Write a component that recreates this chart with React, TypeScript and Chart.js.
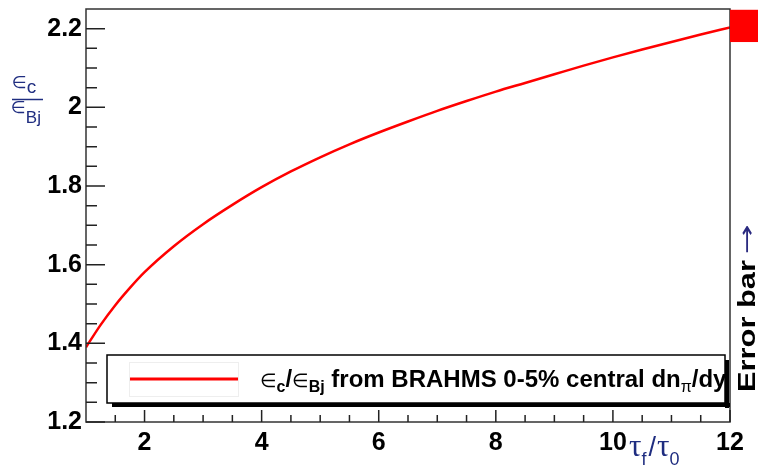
import React, { useEffect, useRef } from 'react';
import { Chart, registerables } from 'chart.js';

Chart.register(...registerables);

// ---- data ----
const xValues = [1, 1.25, 1.5, 1.75, 2, 2.5, 3, 3.5, 4, 4.5, 5, 5.5, 6, 6.5, 7, 7.5, 8, 8.5, 9, 9.5, 10, 10.5, 11, 11.5, 12];
const yValues = [1.39, 1.447, 1.497, 1.541, 1.581, 1.647, 1.703, 1.752, 1.797, 1.837, 1.873, 1.906, 1.936, 1.964, 1.991, 2.016, 2.04, 2.062, 2.084, 2.106, 2.127, 2.147, 2.166, 2.185, 2.203];
const xTickLabels = [2, 4, 6, 8, 10, 12];
const yTickLabels = [1.2, 1.4, 1.6, 1.8, 2.0, 2.2];
const errorBarCenter = [2.207];
const errorBarHalfWidth = [0.041];
const xRange = [1, 12];
const yRange = [1.2, 2.25];

const SANS = '"Liberation Sans", Arial, "DejaVu Sans", sans-serif';
const SERIF = '"Liberation Serif", "DejaVu Serif", serif';
const SYM = '"DejaVu Sans", sans-serif';
const NAVY = '#1f2d80';
const EPS = '∈';

const isIn = (v: number, arr: number[]) => arr.some((a) => Math.abs(a - v) < 1e-6);
const fmt = (v: number) => (Math.abs(v - Math.round(v)) < 1e-6 ? String(Math.round(v)) : v.toFixed(1));

type Seg = { t: string; font: string; dy?: number; color?: string; gap?: number };
function drawSegs(ctx: CanvasRenderingContext2D, segs: Seg[], x: number, y: number) {
  let cx = x;
  for (const s of segs) {
    ctx.font = s.font;
    ctx.fillStyle = s.color || '#000';
    cx += s.gap || 0;
    ctx.fillText(s.t, cx, y + (s.dy || 0));
    cx += ctx.measureText(s.t).width;
  }
  return cx;
}

const overlay = {
  id: 'overlay',
  afterDatasetsDraw(chart: any) {
    const ctx: CanvasRenderingContext2D = chart.ctx;
    const { left, right, top, bottom } = chart.chartArea;
    const xs = chart.scales.x;
    const ys = chart.scales.y;
    ctx.save();

    // frame
    ctx.strokeStyle = '#333';
    ctx.lineWidth = 1.5;
    ctx.strokeRect(left, top, right - left, bottom - top);

    // inward ticks
    ctx.beginPath();
    ctx.lineWidth = 1.5;
    ctx.strokeStyle = '#222';
    xs.ticks.forEach((t: any) => {
      const px = xs.getPixelForValue(t.value);
      const major = isIn(t.value, xTickLabels);
      if (!major && (px <= left + 1 || px >= right - 1)) return;
      const len = major ? 12 : 7;
      ctx.moveTo(px, bottom);
      ctx.lineTo(px, bottom - len);
    });
    ys.ticks.forEach((t: any) => {
      const py = ys.getPixelForValue(t.value);
      if (py <= top + 1) return;
      const len = isIn(t.value, yTickLabels) ? 19 : 11;
      ctx.moveTo(left, py);
      ctx.lineTo(left + len, py);
    });
    ctx.stroke();

    // error bar box at right edge
    const eTop = ys.getPixelForValue(errorBarCenter[0] + errorBarHalfWidth[0]);
    const eBot = ys.getPixelForValue(errorBarCenter[0] - errorBarHalfWidth[0]);
    ctx.fillStyle = '#ff0000';
    ctx.fillRect(right, eTop, 28, eBot - eTop);

    // legend
    const lx1 = left + 21, ly1 = 355, lx2 = right - 5, ly2 = 403;
    ctx.fillStyle = '#000';
    ctx.fillRect(lx1 + 5, ly2, lx2 - lx1, 4);
    ctx.fillRect(lx2, ly1 + 5, 4, ly2 - ly1);
    ctx.fillStyle = '#fff';
    ctx.fillRect(lx1, ly1, lx2 - lx1, ly2 - ly1);
    ctx.strokeStyle = '#eeeeee';
    ctx.lineWidth = 1;
    ctx.strokeRect(lx1 + 22.5, ly1 + 7.5, 109, 34);
    ctx.strokeStyle = '#ff0000';
    ctx.lineWidth = 3;
    ctx.beginPath();
    ctx.moveTo(lx1 + 23, ly1 + 24);
    ctx.lineTo(lx1 + 131, ly1 + 24);
    ctx.stroke();
    ctx.textBaseline = 'alphabetic';
    ctx.textAlign = 'left';
    drawSegs(ctx, [
      { t: EPS, font: `19px ${SYM}` },
      { t: 'c', font: `bold 16px ${SANS}`, dy: 5 },
      { t: '/', font: `bold 24px ${SANS}` },
      { t: EPS, font: `19px ${SYM}` },
      { t: 'Bj', font: `bold 16px ${SANS}`, dy: 5 },
      { t: ' from BRAHMS 0-5% central dn', font: `bold 24px ${SANS}` },
      { t: 'π', font: `16px ${SANS}`, dy: 5 },
      { t: '/dy', font: `bold 24px ${SANS}` },
    ], lx1 + 153, 387);
    ctx.strokeStyle = '#000';
    ctx.lineWidth = 1.5;
    ctx.strokeRect(lx1, ly1, lx2 - lx1, ly2 - ly1);

    // y-axis title (fraction)
    drawSegs(ctx, [
      { t: EPS, font: `17px ${SYM}`, color: NAVY },
      { t: 'c', font: `19px ${SANS}`, dy: 5, color: NAVY },
    ], 12, 88);
    ctx.strokeStyle = NAVY;
    ctx.lineWidth = 1.5;
    ctx.beginPath();
    ctx.moveTo(12, 99.5);
    ctx.lineTo(43, 99.5);
    ctx.stroke();
    drawSegs(ctx, [
      { t: EPS, font: `17px ${SYM}`, color: NAVY },
      { t: 'Bj', font: `17px ${SANS}`, dy: 10, color: NAVY },
    ], 11, 113);

    // x-axis title
    drawSegs(ctx, [
      { t: 'τ', font: `31px ${SERIF}`, color: NAVY },
      { t: 'f', font: `18px ${SANS}`, dy: 9, color: NAVY },
      { t: '/', font: `27px ${SANS}`, color: NAVY, gap: 2 },
      { t: 'τ', font: `31px ${SERIF}`, color: NAVY, gap: 1 },
      { t: '0', font: `18px ${SANS}`, dy: 9, color: NAVY },
    ], 629, 456);

    // "Error bar →" rotated text
    ctx.save();
    ctx.translate(755, 392);
    ctx.rotate(-Math.PI / 2);
    ctx.font = `bold 23px ${SANS}`;
    ctx.fillStyle = '#000';
    const w = ctx.measureText('Error bar').width;
    ctx.save();
    ctx.scale(132 / w, 1);
    ctx.fillText('Error bar', 0, 0);
    ctx.restore();
    ctx.font = `22px ${SYM}`;
    ctx.fillStyle = '#2a2a80';
    const aw = ctx.measureText('→').width;
    ctx.save();
    ctx.translate(138, 0);
    ctx.scale(30 / aw, 1);
    ctx.fillText('→', 0, -1);
    ctx.restore();
    ctx.restore();

    ctx.restore();
  },
};

export default function App() {
  const ref = useRef<HTMLCanvasElement | null>(null);
  useEffect(() => {
    if (!ref.current) return;
    const chart = new Chart(ref.current, {
      type: 'line',
      data: {
        datasets: [
          {
            label: 'ϵc/ϵBj from BRAHMS 0-5% central dnπ/dy',
            data: xValues.map((x, i) => ({ x, y: yValues[i] })),
            borderColor: '#ff0000',
            borderWidth: 2.5,
            pointRadius: 0,
            fill: false,
            cubicInterpolationMode: 'monotone',
          },
        ],
      },
      options: {
        responsive: false,
        animation: false,
        devicePixelRatio: 1,
        layout: { padding: { left: 0, right: 29, top: 9, bottom: 0 } },
        plugins: { legend: { display: false }, tooltip: { enabled: false } },
        scales: {
          x: {
            type: 'linear',
            min: xRange[0],
            max: xRange[1],
            grid: { display: false, drawTicks: false },
            border: { display: false },
            ticks: {
              stepSize: 0.5,
              autoSkip: false,
              maxRotation: 0,
              padding: 6,
              color: '#000',
              font: { family: SANS, size: 25, weight: 'bold' },
              callback: (v: any) => (isIn(Number(v), xTickLabels) ? fmt(Number(v)) : ''),
            },
            afterFit: (s: any) => {
              s.height = 45;
              s.paddingLeft = 0;
              s.paddingRight = 0;
            },
          },
          y: {
            type: 'linear',
            min: yRange[0],
            max: yRange[1],
            grid: { display: false, drawTicks: false },
            border: { display: false },
            ticks: {
              stepSize: 0.05,
              autoSkip: false,
              padding: 4,
              color: '#000',
              font: { family: SANS, size: 25, weight: 'bold' },
              callback: (v: any) => (isIn(Number(v), yTickLabels) ? fmt(Number(v)) : ''),
            },
            afterFit: (s: any) => {
              s.width = 86;
              s.paddingTop = 0;
              s.paddingBottom = 0;
            },
          },
        },
      },
      plugins: [overlay],
    } as any);
    return () => chart.destroy();
  }, []);
  return (
    <div style={{ position: 'fixed', left: 0, top: 0, width: 759, height: 467, background: '#fff' }}>
      <canvas ref={ref} width={759} height={467} style={{ display: 'block' }} />
    </div>
  );
}
